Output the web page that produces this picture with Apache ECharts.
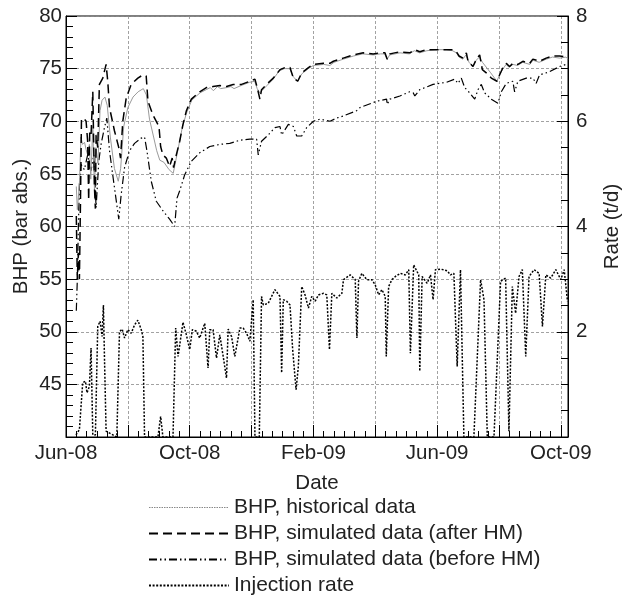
<!DOCTYPE html>
<html>
<head>
<meta charset="utf-8">
<script src="https://cdn.jsdelivr.net/npm/echarts@6/dist/echarts.min.js"></script>
<style>
  html, body { margin: 0; padding: 0; background: #fff; }
  #main { width: 622px; height: 601px; }
</style>
</head>
<body>
<div id="main"></div>
<script>
// x = days since 1 Jun 2008
var xTickDays = [0, 120, 240, 360, 480];
var xTickLabels = ['Jun-08', 'Oct-08', 'Feb-09', 'Jun-09', 'Oct-09'];

// BHP, historical data (bar abs.)
var bhpHistorical = [
  [10,63.8],[11,61.6],[13,64],[14.5,68.5],[16,67.8],[18,68],[19.5,67.3],[21,66.8],[22.7,67.8],[24,64.5],
  [26,69.5],[27.6,63.5],[29,67.5],[31,66],[33,71],[35,72],[37.8,72.3],[40,71.5],[43,68.5],[47,65.5],
  [50.7,64.3],[53,65.5],[56,69.5],[60,71.3],[65,72.3],[70,72.8],[75,73.1],[78,72.5],[81,70.2],[85,68.5],
  [88,67.2],[91,66.3],[95,66.1],[100,65.4],[104,65.05],[107,66.5],[110,68],[113,69.5],[117,70.8],[122,72],
  [130,72.7],[136,73],[140,73.2],[143,72.9],[147,73.3],[150,73.1],[156,73.2],[160,73.3],[163,73.1],[170,73.4],
  [178,73.7],[183,73.8],[185.5,73.1],[188,72.7],[190,72.9],[195,73.4],[201,74],[207,74.8],[212,75],[217,75],
  [220.6,74.2],[224.8,73.8],[228.7,74.5],[235,75],[240,75.3],[250,75.4],[256,75.3],[260,75.6],[269,75.9],[279,76.2],
  [288,76.4],[298,76.3],[305,76.4],[309,76.4],[311.6,75.9],[314,76.3],[324,76.5],[333,76.4],[338,76.7],[343,76.5],
  [350,76.7],[359,76.8],[369,76.8],[375,76.7],[378.7,76.5],[381.3,76.1],[385,75.9],[388,76.3],[391,75.6],[395,75.2],
  [398,75.8],[401,76.1],[404,75.6],[412,74.6],[418,73.8],[421,74.5],[424,75],[427,75.4],[430,75.1],[433.5,75.4],
  [438,75.3],[443,75.6],[450,75.4],[453,75.8],[459,75.6],[466,75.9],[472,76.1],[479,76],[485,76.1],[487,75.9]
];

// BHP, simulated data (after HM)
var bhpAfterHM = [
  [10,61],[11,55],[12,57.5],[13,55],[14,62],[15,70.2],[17,70.3],[19.5,70],[21,68.1],[22,62.5],
  [23,69],[24.3,68.7],[26,72.8],[27.6,63.7],[28.5,61.7],[29.2,68.7],[30.8,67.5],[32.4,73.5],[35.7,74.1],[38.9,75.4],
  [40.5,73.8],[42.2,71.3],[47,69.1],[51.2,67.5],[52.9,66.5],[55.1,70],[58.4,72.2],[63.2,73.5],[69.7,74.1],[74.6,74.4],
  [77.8,74.3],[79.5,71.9],[84.3,70.6],[90.2,69.5],[91.8,67.6],[94,66.8],[97.3,66.5],[100.5,65.7],[103,66.5],[104.4,65.6],
  [107,66.8],[110.3,68.1],[113.5,69.7],[116.8,71],[121.6,72.1],[129.7,72.8],[136.2,73.2],[142.7,73.3],[149.2,73.4],[155.7,73.3],
  [162.2,73.5],[170.3,73.5],[178.4,73.8],[183.3,74],[185.5,73.2],[188.1,72.1],[189.7,73],[194.6,73.5],[201.1,74.1],[207.6,74.9],
  [212.5,75.1],[217.3,75.1],[220.6,74.1],[224.8,73.8],[228.7,74.6],[235.2,75.1],[240,75.4],[249.7,75.5],[256,75.5],[259.4,75.7],
  [269,76],[278.7,76.3],[288.4,76.5],[298,76.4],[304.5,76.5],[309.4,76.5],[311.6,75.9],[314.2,76.4],[323.9,76.6],[333.5,76.5],
  [338.4,76.8],[343.2,76.6],[349.7,76.8],[359.4,76.8],[369,76.8],[375.5,76.8],[378.7,76.6],[381.3,76.2],[385.2,76],[388.4,76.5],
  [390,75.7],[394.8,75.2],[398.1,75.9],[401.3,76.3],[403.9,74.9],[407.7,74.6],[412.6,74.1],[418.1,73.8],[420.6,74.4],[423.9,75.1],
  [427.1,75.5],[430.3,75.2],[433.5,75.5],[438.4,75.4],[443.2,75.7],[449.7,75.5],[452.9,75.9],[459.4,75.7],[465.8,76],[472.3,76.2],
  [478.7,76.2],[485.2,76.1],[487,76.2]
];

// BHP, simulated data (before HM)
var bhpBeforeHM = [
  [10,52],[11,55],[12,60],[13,64],[14.6,65.9],[17.8,65.4],[21,66.8],[24.3,65.3],[26.9,66.8],[29.2,61.8],
  [31.8,66.2],[34,67.8],[37.3,69.4],[39.6,70.3],[42.2,67.2],[47,63.7],[51.2,60.7],[53.5,63],[56.8,65.6],[61.6,67.2],
  [66.5,67.9],[73,68.4],[76.2,68.5],[78.5,67.2],[82.7,64.3],[87.6,62.4],[94,61.5],[100.5,60.7],[105.4,60],[107.7,62.7],
  [110.3,63.4],[115.1,64.9],[121.6,66.2],[129.7,67],[139.5,67.6],[149.2,67.8],[158.9,67.9],[168.7,68.2],[178.4,68.3],[184.9,68.3],
  [186.5,66.8],[188.1,66.7],[189.7,68.1],[196.2,68.7],[202.7,69.4],[207.6,69.5],[209.2,68.7],[215.7,69.7],[220.6,69.5],[223.8,68.6],
  [228.7,68.6],[233.5,69.4],[240,70],[246.5,70.2],[256.1,70],[262.6,70.3],[269,70.5],[281.9,71],[285.2,71.3],[301.3,71.9],
  [311,72.1],[311.6,71.6],[314.2,72.1],[323.9,72.4],[333.5,72.8],[336.8,72.7],[338.4,72.4],[343.2,73],[356.1,73.5],[369,73.7],
  [377.1,74],[380.3,73.6],[383.5,74.1],[386.8,73.2],[391.6,72.7],[396.5,72.1],[399.7,73],[402.9,73.5],[406.1,72.7],[412.6,72.1],
  [419,71.7],[422.3,72.8],[427.1,73.6],[433.5,73.8],[435.2,72.8],[438.4,73.8],[446.5,74.1],[452.9,74.1],[456.1,73.6],[459.4,74.4],
  [469,74.7],[478.7,75.2],[485.2,75.4],[487,75.5]
];

// Injection rate (t/d)
var injectionRate = [
  [9.7,0.04],[13,0.14],[16.2,1.03],[18.8,1.06],[20.4,0.84],[22.7,0.96],[24.3,1.69],[26,0.04],[28.5,0.04],[30.8,2.1],
  [33.1,2.2],[35,1.91],[36.3,2.51],[37.3,1.53],[38.9,0.11],[49.3,0],[51.9,2.0],[54.5,2.05],[56.8,1.88],[60,2.04],
  [63.2,1.97],[66.5,2.13],[69.7,2.22],[73,2.04],[74.6,1.91],[76.2,0],[89.2,0],[91.8,0.39],[94,0],[103.8,0],
  [106.4,2.07],[108.7,1.53],[113.5,2.18],[116.8,1.94],[120,1.66],[122.6,2.04],[126.5,2.01],[129.7,1.88],[134.6,2.16],[137.8,1.31],
  [139.5,2.04],[142.7,2.04],[146,1.5],[149.2,1.94],[152.5,1.53],[155.7,1.12],[157.3,2.05],[160.6,1.91],[163.8,1.53],[168.7,2.07],
  [171.9,2.07],[175.2,1.97],[178.4,1.82],[181.6,2.61],[183.3,0],[187.5,0],[189.7,2.67],[191.4,2.51],[196.2,2.54],[202.7,2.8],
  [207.6,2.67],[209.2,1.22],[210.8,2.61],[214.1,2.58],[217.3,2.51],[219.9,1.66],[223.2,0.9],[225.4,1.34],[228.7,2.86],[231.9,2.7],
  [235.2,2.45],[238.4,2.67],[241.7,2.58],[244.9,2.7],[249.8,2.73],[253,2.7],[255.6,1.66],[257.9,2.73],[262.7,2.64],[267.6,2.73],
  [269.2,2.99],[275.7,3.08],[280.6,2.99],[282.2,1.88],[283.8,2.96],[287,3.11],[291.9,2.99],[296.8,2.99],[300,2.89],[303.3,2.7],
  [306.5,2.8],[309.7,2.67],[310.7,1.53],[313,2.86],[316.2,2.99],[319.5,3.05],[324.4,3.11],[329.2,3.08],[332.5,3.18],[334.1,1.59],
  [337.3,3.27],[342.2,3.08],[343.2,1.25],[345.5,3.05],[350.3,2.92],[353.6,3.08],[356.1,2.61],[358.4,3.18],[363.3,3.19],[369.8,3.16],
  [373,3.08],[376.3,3.11],[379.5,1.34],[382.7,3.18],[386,0],[395.7,0],[402.2,2.99],[405.5,2.61],[408.7,0],[415.2,0],
  [421.6,2.96],[426.5,3.02],[429.7,0.11],[433,2.86],[436.2,2.35],[439.5,3.05],[442.7,3.18],[446,1.53],[449.2,3.05],[454.1,3.18],
  [459,3.11],[462.2,2.1],[465.5,3.08],[470.3,3.02],[475.2,3.18],[480,2.99],[483.3,3.18],[486.5,2.58]
];

var myChart = echarts.init(document.getElementById('main'));

var font = 'Liberation Sans, Arial, Helvetica, sans-serif';
var gridLine = { show: true, lineStyle: { color: '#8a8a8a', type: [3, 2], width: 0.8 } };

var option = {
  animation: false,
  backgroundColor: '#fff',
  textStyle: { fontFamily: font, color: '#222' },
  grid: {
    left: 66, right: 54, top: 16, bottom: 164,
    outerBoundsMode: 'none',
    containLabel: false,
    show: true, borderColor: '#000', borderWidth: 1, backgroundColor: 'transparent'
  },
  legend: {
    orient: 'vertical',
    left: 148,
    top: 497,
    padding: 0,
    itemWidth: 80,
    itemHeight: 14,
    itemGap: 5,
    itemStyle: { opacity: 0 },
    textStyle: { fontSize: 21, lineHeight: 20, color: '#222', fontFamily: font },
    data: [
      { name: 'BHP, historical data', lineStyle: { color: '#888', width: 1, type: [1.5, 1] } },
      'BHP, simulated data (after HM)',
      'BHP, simulated data (before HM)',
      'Injection rate'
    ]
  },
  xAxis: {
    type: 'value',
    min: 0,
    max: 487,
    interval: 60,
    name: 'Date',
    nameLocation: 'middle',
    nameGap: 36,
    nameTextStyle: { fontSize: 20.5, color: '#222', fontFamily: font },
    axisLine: { show: true, lineStyle: { color: '#000', width: 1 } },
    axisTick: { show: true, inside: true, length: 12, lineStyle: { color: '#000' } },
    minorTick: { show: true, splitNumber: 6, length: 6, lineStyle: { color: '#000' } },
    splitLine: gridLine,
    axisLabel: {
      fontSize: 20.5, color: '#222', margin: 6, hideOverlap: false,
      formatter: function (v) {
        var i = xTickDays.indexOf(v);
        return i >= 0 ? xTickLabels[i] : '';
      }
    }
  },
  yAxis: [
    {
      type: 'value',
      min: 40,
      max: 80,
      interval: 5,
      name: 'BHP (bar abs.)',
      nameLocation: 'middle',
      nameGap: 34,
      nameRotate: 90,
      nameMoveOverlap: false,
      nameTextStyle: { fontSize: 20.5, color: '#222', fontFamily: font },
      axisLine: { show: true, lineStyle: { color: '#000', width: 1 } },
      axisTick: { show: true, inside: true, length: 11, lineStyle: { color: '#000' } },
      minorTick: { show: true, splitNumber: 5, length: 7, lineStyle: { color: '#000' } },
      splitLine: gridLine,
      axisLabel: {
        fontSize: 20.5, color: '#222', margin: 4,
        formatter: function (v) { return v === 40 ? '' : v; }
      }
    },
    {
      type: 'value',
      min: 0,
      max: 8,
      interval: 2,
      position: 'right',
      name: 'Rate (t/d)',
      nameLocation: 'middle',
      nameGap: 34,
      nameRotate: 90,
      nameTextStyle: { fontSize: 20.5, color: '#222', fontFamily: font },
      axisLine: { show: true, lineStyle: { color: '#000', width: 1 } },
      axisTick: { show: true, inside: true, length: 11, lineStyle: { color: '#000' } },
      minorTick: { show: true, splitNumber: 4, length: 7, lineStyle: { color: '#000' } },
      splitLine: { show: false },
      axisLabel: {
        fontSize: 20.5, color: '#222', margin: 8,
        formatter: function (v) { return v === 0 ? '' : v; }
      }
    }
  ],
  series: [
    {
      name: 'Injection rate',
      type: 'line',
      yAxisIndex: 1,
      showSymbol: false,
      symbol: 'none',
      lineStyle: { color: '#000', width: 1.5, type: [2, 1.6] },
      itemStyle: { color: '#000' },
      data: injectionRate
    },
    {
      name: 'BHP, simulated data (before HM)',
      type: 'line',
      yAxisIndex: 0,
      showSymbol: false,
      symbol: 'none',
      lineStyle: { color: '#000', width: 1.2, type: [8, 3, 1.5, 3, 1.5, 3] },
      itemStyle: { color: '#000' },
      data: bhpBeforeHM
    },
    {
      name: 'BHP, historical data',
      type: 'line',
      yAxisIndex: 0,
      showSymbol: false,
      symbol: 'none',
      lineStyle: { color: '#9a9a9a', width: 1 },
      itemStyle: { color: '#9a9a9a' },
      data: bhpHistorical
    },
    {
      name: 'BHP, simulated data (after HM)',
      type: 'line',
      yAxisIndex: 0,
      showSymbol: false,
      symbol: 'none',
      lineStyle: { color: '#000', width: 1.5, type: [9, 5] },
      itemStyle: { color: '#000' },
      data: bhpAfterHM
    }
  ]
};

myChart.setOption(option);
</script>
</body>
</html>
